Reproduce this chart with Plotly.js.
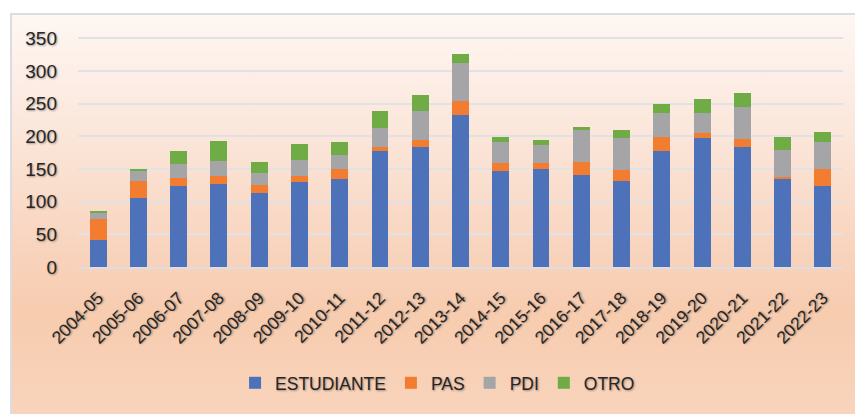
<!DOCTYPE html>
<html>
<head>
<meta charset="utf-8">
<script src="https://cdn.plot.ly/plotly-3.0.1.min.js"></script>
<style>
  html, body { margin:0; padding:0; background:#ffffff; }
  #frame { position:absolute; left:10px; top:13px; width:845px; height:401px;
           border-left:2px solid #dcdde2; border-top:2px solid #dcdde2; box-sizing:border-box;
           background: linear-gradient(to bottom, #fef7f3 0%, #fbe6da 30%, #f8d3bc 60%, #f7ccaf 75%, #f8d4bc 100%); }
  #chart { position:absolute; left:0; top:0; width:855px; height:414px; }
</style>
</head>
<body>
<div id="frame"></div>
<div id="chart"></div>
<script>
const categories = ["2004-05","2005-06","2006-07","2007-08","2008-09","2009-10","2010-11","2011-12","2012-13","2013-14","2014-15","2015-16","2016-17","2017-18","2018-19","2019-20","2020-21","2021-22","2022-23"];
const estudiante = [42,106,124,127,113,130,135,178,183,232,147,150,141,131,177,198,183,135,124];
const pas        = [31,26,12,12,12,9,15,5,12,22,12,9,20,17,22,7,13,3,26];
const pdi        = [10,15,22,23,19,24,21,29,44,58,32,27,48,50,37,31,49,41,41];
const otro       = [3,3,20,31,16,25,20,27,25,14,8,9,6,11,14,21,21,20,16];
const seriesNames = ["ESTUDIANTE","PAS","PDI","OTRO"];
const seriesColors = ["#4d72b9","#f27c30","#a5a5a7","#6fac45"];

const FONT = "'Liberation Sans Narrow', 'Arial Narrow', 'Liberation Sans', sans-serif";
const SHADOW = "1px 1px 2px rgba(0,0,0,0.35)";

const values = [estudiante, pas, pdi, otro];
const traces = values.map((v, i) => ({
  type: "bar",
  name: seriesNames[i],
  x: categories,
  y: v,
  marker: { color: seriesColors[i], line: { width: 0 } },
  hoverinfo: "x+y+name"
}));

const layout = {
  width: 855, height: 414,
  barmode: "stack",
  bargap: 0.58,
  paper_bgcolor: "rgba(0,0,0,0)",
  plot_bgcolor: "rgba(0,0,0,0)",
  margin: { l: 78, r: 12, t: 37, b: 147 },
  font: { family: FONT, color: "#262626", size: 18 },
  xaxis: {
    type: "category",
    tickangle: -45,
    tickfont: { family: FONT, size: 17.5, color: "#262626", shadow: SHADOW },
    showgrid: false,
    showline: true, linecolor: "#dcdde2", linewidth: 2,
    ticks: "", ticklabelstandoff: 12,
    fixedrange: true
  },
  yaxis: {
    range: [0, 352],
    tickvals: [0,50,100,150,200,250,300,350],
    tickfont: { family: FONT, size: 19, color: "#262626", shadow: SHADOW },
    showgrid: true, gridcolor: "#e2e2e6", gridwidth: 2,
    zeroline: false, showline: false,
    ticks: "", ticklabelstandoff: 20,
    fixedrange: true
  },
  showlegend: true,
  legend: {
    orientation: "h",
    x: 0.47, xanchor: "center",
    y: -0.504, yanchor: "middle",
    font: { family: FONT, size: 17.5, color: "#262626", shadow: SHADOW },
    itemwidth: 30,
    traceorder: "normal",
    bgcolor: "rgba(0,0,0,0)"
  }
};

Plotly.newPlot("chart", traces, layout, { displayModeBar: false, staticPlot: true });
</script>
</body>
</html>
